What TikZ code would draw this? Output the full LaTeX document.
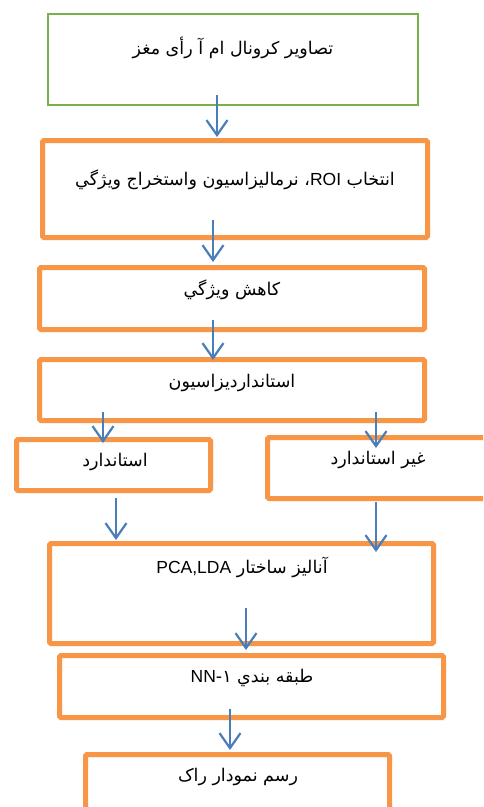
\documentclass[tikz,border=0pt]{standalone}
\usepackage{fontspec}
\setmainfont{Liberation Sans}
\newfontfamily\arabicfont[Script=Arabic]{DejaVu Sans}
\newfontfamily\latinfont{Liberation Sans}
\TeXXeTstate=1
\usetikzlibrary{arrows.meta,calc}
\definecolor{boxgreen}{RGB}{119,178,72}
\definecolor{boxorange}{RGB}{247,150,70}
\definecolor{arrblue}{RGB}{74,126,187}
\tikzset{
  gbox/.style={draw=boxgreen, line width=2pt, fill=white},
  obox/.style={draw=boxorange, line width=5pt, rounded corners=1.5pt, fill=white},
  lbl/.style={font=\arabicfont\fontsize{17.5}{20}\selectfont, inner sep=0pt, text=black},
  arr/.style={draw=arrblue, line width=2.2pt, -{Straight Barb[length=15pt,width=21pt]}}
}
\begin{document}
\begin{tikzpicture}[x=1pt,y=-1pt]
\useasboundingbox (0,0) rectangle (483,807);
\fill[white] (0,0) rectangle (483,807);
\clip (0,0) rectangle (483,807);
% boxes
\node[gbox, minimum width=370pt, minimum height=91pt] (b1) at (233,59.5) {};
\node[obox, minimum width=385pt, minimum height=97pt] (b2) at (235,189) {};
\node[obox, minimum width=385pt, minimum height=62pt] (b3) at (232,298.5) {};
\node[obox, minimum width=385pt, minimum height=61pt] (b4) at (232,390) {};
\node[obox, minimum width=194pt, minimum height=51pt] (b5) at (113.5,465) {};
\node[obox, minimum width=225pt, minimum height=61pt] (b6) at (380,468) {};
\node[obox, minimum width=384pt, minimum height=100pt] (b7) at (241.5,593.5) {};
\node[obox, minimum width=384pt, minimum height=62pt] (b8) at (251.5,686.5) {};
\node[obox, minimum width=304pt, minimum height=63pt] (b9) at (237.5,786) {};
% texts
\node[lbl] (t1) at (233,48) {\beginR تصاویر کرونال ام آ رأی مغز\endR};
\node[lbl] (t2) at (235,180) {\beginR انتخاب \beginL{\latinfont ROI}\endL، نرمالیزاسیون واستخراج ویژگي\endR};
\node[lbl] (t3) at (232,290) {\beginR کاهش ویژگي\endR};
\node[lbl] (t4) at (232,383) {\beginR استانداردیزاسیون\endR};
\node[lbl] (t5) at (115,462) {\beginR استاندارد\endR};
\node[lbl] (t6) at (378,460) {\beginR غیر استاندارد\endR};
\node[lbl] (t7) at (242,567) {\beginR آنالیز ساختار \beginL{\latinfont PCA,LDA}\endL\endR};
\node[lbl] (t8) at (252,678) {\beginR طبقه بندي ١-\beginL{\latinfont NN}\endL\endR};
\node[lbl] (t9) at (238,777) {\beginR رسم نمودار راک\endR};
% arrows
\draw[arr] ($(b1.south)+(-16,-11)$) -- ($(b2.north)+(-18,-1)$);
\draw[arr] ($(b2.south)+(-22,-20)$) -- ($(b3.north)+(-19,-3)$);
\draw[arr] ($(b3.south)+(-19,-12)$) -- ($(b4.north)+(-19,3)$);
\draw[arr] ($(b4.south)+(-129,-11)$) -- ($(b5.north)+(-10.5,6)$);
\draw[arr] ($(b4.south)+(144,-11)$) -- ($(b6.north)+(-4,13)$);
\draw[arr] ($(b5.south)+(2.5,5)$) -- ($(b7.north)+(-125.5,-1)$);
\draw[arr] ($(b6.south)+(-4,1)$) -- ($(b7.north)+(134.5,11)$);
\draw[arr] ($(b7.south)+(4.5,-38)$) -- ($(b8.north)+(-5.5,-3)$);
\draw[arr] ($(b8.south)+(-21.5,-11)$) -- ($(b9.north)+(-7.5,-2)$);
\end{tikzpicture}
\end{document}
